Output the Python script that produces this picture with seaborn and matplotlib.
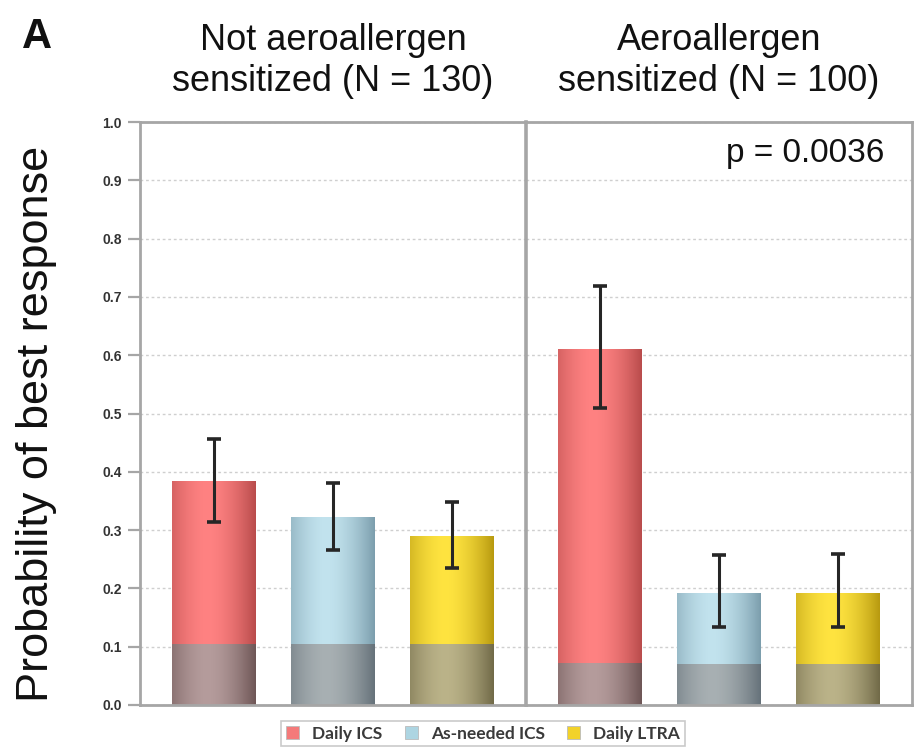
import numpy as np
import pandas as pd
import matplotlib
matplotlib.use("Agg")
import matplotlib.pyplot as plt
from matplotlib.colors import to_rgb
from matplotlib.patches import Patch
import seaborn as sns

# ---- data -------------------------------------------------------------
treatments = ["Daily ICS", "As-needed ICS", "Daily LTRA"]
panel_titles = ["Not aeroallergen\nsensitized (N = 130)",
                "Aeroallergen\nsensitized (N = 100)"]

prob_not = [0.383, 0.321, 0.289]
lo_not = [0.314, 0.266, 0.235]
hi_not = [0.457, 0.381, 0.349]
base_not = [0.103, 0.103, 0.103]

prob_sens = [0.609, 0.191, 0.192]
lo_sens = [0.509, 0.134, 0.134]
hi_sens = [0.718, 0.258, 0.259]
base_sens = [0.071, 0.069, 0.069]

y_ticks = [0.0, 0.1, 0.2, 0.3, 0.4, 0.5, 0.6, 0.7, 0.8, 0.9, 1.0]
y_tick_labels = ["0.0", "0.1", "0.2", "0.3", "0.4", "0.5",
                 "0.6", "0.7", "0.8", "0.9", "1.0"]
p_label = "p = 0.0036"

# ---- colours (centre highlight, edge shade) ---------------------------
main_colors = {"Daily ICS": ("#ff8282", "#b94c4c"),
               "As-needed ICS": ("#c2e3ee", "#7c9ead"),
               "Daily LTRA": ("#ffe440", "#b89a10")}
base_colors = {"Daily ICS": ("#b59c9c", "#6e5656"),
               "As-needed ICS": ("#a8b0b3", "#66727a"),
               "Daily LTRA": ("#bbb389", "#716a48")}
legend_colors = {"Daily ICS": "#f47a7a",
                 "As-needed ICS": "#add5e2",
                 "Daily LTRA": "#f2d22a"}

sns.set_theme(style="white")
plt.rcParams["font.family"] = ["Liberation Sans", "DejaVu Sans"]

FIG_W, FIG_H = 917, 749
fig = plt.figure(figsize=(FIG_W / 100, FIG_H / 100), dpi=100)
fig.patch.set_facecolor("white")

ax_bottom, ax_top = 705, 122
ax_h = (ax_bottom - ax_top) / FIG_H
ax1 = fig.add_axes([140 / FIG_W, 1 - ax_bottom / FIG_H, 386 / FIG_W, ax_h])
ax2 = fig.add_axes([526 / FIG_W, 1 - ax_bottom / FIG_H, 386 / FIG_W, ax_h])

spine_col = "#a6a6a6"
BAR_W = 0.705
XLIM = (-0.62, 2.625)


def cylinder(center, edge, n=96):
    """Horizontal shading profile that gives a bar a rounded look."""
    t = np.linspace(0, 1, n)
    s = np.clip(np.abs(t - 0.42) / 0.58, 0, 1) ** 1.7
    c0, c1 = np.array(to_rgb(center)), np.array(to_rgb(edge))
    rgb = c0[None, :] * (1 - s[:, None]) + c1[None, :] * s[:, None]
    return rgb[None, :, :]


def shade_patches(ax, patches, palette):
    for patch in patches:
        x0, y0 = patch.get_x(), patch.get_y()
        w, h = patch.get_width(), patch.get_height()
        cat = treatments[int(round(x0 + w / 2))]
        c_center, c_edge = palette[cat]
        ax.imshow(cylinder(c_center, c_edge), extent=[x0, x0 + w, y0, y0 + h],
                  aspect="auto", interpolation="bilinear",
                  zorder=patch.get_zorder() + 0.1)
        patch.set_facecolor("none")
        patch.set_edgecolor("none")


for ax, prob, lo, hi, base in [(ax1, prob_not, lo_not, hi_not, base_not),
                               (ax2, prob_sens, lo_sens, hi_sens, base_sens)]:
    df = pd.DataFrame({"treatment": treatments, "prob": prob, "base": base})
    pal = {k: v[0] for k, v in main_colors.items()}
    sns.barplot(data=df, x="treatment", y="prob", hue="treatment",
                order=treatments, hue_order=treatments, palette=pal,
                width=BAR_W, errorbar=None, legend=False, saturation=1, ax=ax)
    n_main = len(ax.patches)
    shade_patches(ax, list(ax.patches)[:n_main], main_colors)

    sns.barplot(data=df, x="treatment", y="base", hue="treatment",
                order=treatments, hue_order=treatments, palette=pal,
                width=BAR_W, errorbar=None, legend=False, saturation=1, ax=ax)
    shade_patches(ax, list(ax.patches)[n_main:], base_colors)

    prob_a, lo_a, hi_a = np.array(prob), np.array(lo), np.array(hi)
    ax.errorbar(np.arange(len(treatments)), prob_a,
                yerr=[prob_a - lo_a, hi_a - prob_a], fmt="none",
                ecolor="#262626", elinewidth=2.2, capsize=5, capthick=2.6,
                zorder=10)

    ax.set_xlim(*XLIM)
    ax.set_ylim(0, 1.0)
    ax.set_yticks(y_ticks)
    ax.set_xticks([])
    ax.set_xlabel("")
    ax.set_ylabel("")
    ax.yaxis.grid(True, linestyle=(0, (2, 2)), color="#cfcfcf", lw=1)
    ax.set_axisbelow(True)
    for side in ["top", "bottom", "left", "right"]:
        ax.spines[side].set_color(spine_col)
        ax.spines[side].set_linewidth(2)
        ax.spines[side].set_visible(True)

ax1.spines["right"].set_visible(False)
ax2.spines["left"].set_linewidth(2.6)
ax1.set_yticklabels(y_tick_labels)
ax1.tick_params(axis="y", left=True, length=9, width=1.6, color=spine_col,
                labelsize=10, labelcolor="#333333", pad=4)
for lab in ax1.get_yticklabels():
    lab.set_fontweight("bold")
ax2.tick_params(axis="y", left=False, labelleft=False)

# panel headings
for ax, title in zip([ax1, ax2], panel_titles):
    ax.text(0.5, 1.04, title, transform=ax.transAxes, ha="center",
            va="bottom", fontsize=26, linespacing=1.2, color="#111111")

fig.text(22 / FIG_W, 1 - 48 / FIG_H, "A", fontsize=30, fontweight="bold",
         va="baseline", ha="left", color="#111111")
fig.text(37 / FIG_W, 1 - 424 / FIG_H, "Probability of best response",
         rotation=90, ha="center", va="center", fontsize=32.5, color="#111111")
fig.text(884 / FIG_W, 1 - 162 / FIG_H, p_label, ha="right", va="baseline",
         fontsize=24, color="#111111")

handles = [Patch(facecolor=legend_colors[t], edgecolor="#bbbbbb", lw=0.6)
           for t in treatments]
leg = fig.legend(handles, treatments, loc="lower center", ncol=3,
                 bbox_to_anchor=(483 / FIG_W, 3 / FIG_H), frameon=True,
                 fancybox=False, edgecolor="#bdbdbd",
                 prop={"family": ["Lato", "DejaVu Sans"], "weight": "bold",
                       "size": 12.5},
                 handlelength=0.75, handleheight=0.75, handletextpad=0.75,
                 columnspacing=1.3, borderpad=0.25, borderaxespad=0)
for txt in leg.get_texts():
    txt.set_color("#3a3a3a")
leg.get_frame().set_linewidth(1.2)

fig.savefig("out.png", dpi=100, facecolor="white")
